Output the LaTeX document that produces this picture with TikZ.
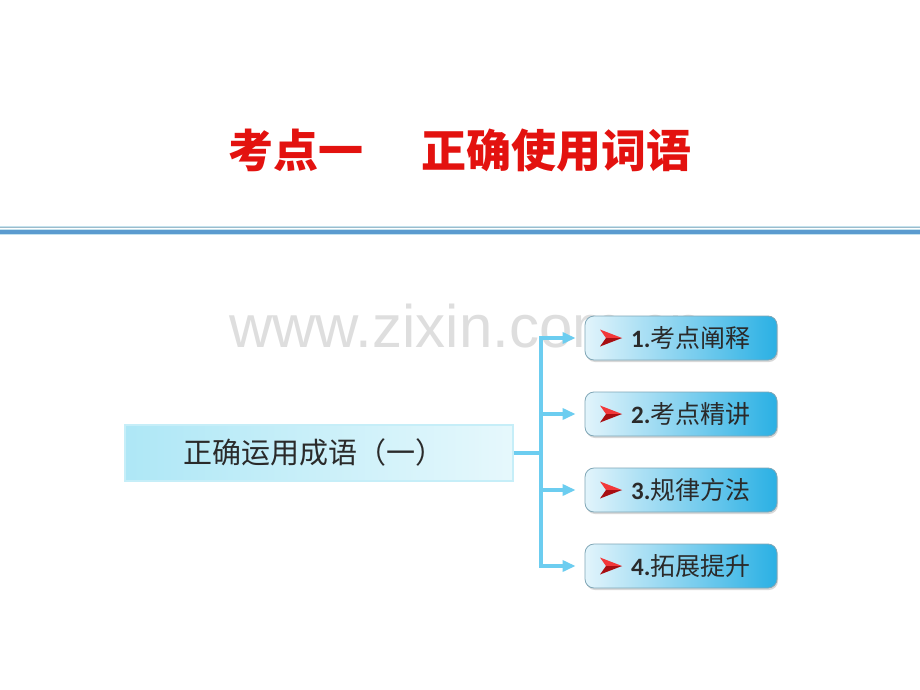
\documentclass[tikz,border=0pt]{standalone}
\usepackage{fontspec}
\setmainfont{Carlito}
\newfontfamily\cjk{Noto Sans CJK SC}
\newfontfamily\wmfont{Liberation Sans}
\usetikzlibrary{arrows.meta,shadows}
\definecolor{titlered}{HTML}{E3120F}
\definecolor{rulegray}{HTML}{9DBCCB}
\definecolor{ruleblue}{HTML}{5B9BCF}
\definecolor{rulelight}{HTML}{C4E2EE}
\definecolor{wmgray}{HTML}{DEDEDE}
\definecolor{linkblue}{HTML}{6CCDF0}
\definecolor{lbleft}{HTML}{AEE7F6}
\definecolor{lbright}{HTML}{E6F8FC}
\definecolor{lbborder}{HTML}{C6EEF8}
\definecolor{rbleft}{HTML}{E2F4FB}
\definecolor{rbright}{HTML}{2AB0E4}
\definecolor{rbborder}{HTML}{7FA6B6}
\definecolor{txtdark}{HTML}{2A2A2A}
\definecolor{bulletlight}{HTML}{F2383A}
\definecolor{bulletdark}{HTML}{A80E12}
\begin{document}
\begin{tikzpicture}[x=1pt,y=-1pt,
  titlestyle/.style={inner sep=0pt, text=titlered, font=\cjk\bfseries\fontsize{45}{50}\selectfont},
  leftbox/.style={minimum width=388pt, minimum height=56pt, inner sep=0pt,
    left color=lbleft, right color=lbright, draw=lbborder, line width=1.6pt},
  lefttext/.style={inner sep=0pt, text=txtdark, font=\cjk\fontsize{29}{32}\selectfont},
  itembox/.style={minimum width=192pt, minimum height=44pt, inner sep=0pt, rounded corners=9pt,
    left color=rbleft, right color=rbright, draw=rbborder, line width=0.8pt,
    drop shadow={shadow xshift=1pt, shadow yshift=-2pt, opacity=0.3}},
  itemtext/.style={inner sep=0pt, anchor=west, text=txtdark, font=\fontsize{25}{28}\selectfont},
  link/.style={draw=linkblue, line width=3.5pt},
  linkarrow/.style={link, -{Triangle[length=13pt,width=11pt]}},
  watermark/.style={inner sep=0pt, anchor=base west, text=wmgray, font=\wmfont\fontsize{60}{62}\selectfont}
]
\useasboundingbox (0,0) rectangle (920,690);
\fill[white] (0,0) rectangle (920,690);

% title
\node[titlestyle] (title) at (460,150) {考点一\hspace{58pt}正确使用词语};

% rules under title
\draw[rulelight, line width=1pt] (0,226) -- (920,226);
\draw[rulegray, line width=1pt] (0,227.6) -- (920,227.6);
\draw[rulelight, line width=1pt] (0,229.5) -- (920,229.5);
\draw[ruleblue, line width=4pt] (0,232) -- (920,232);
\draw[rulelight, line width=1pt] (0,234.5) -- (920,234.5);

% watermark
\node[watermark] (wm) at (229,347) {www.zixin.com.cn};

% left box
\node[leftbox] (lb) at (319,453) {};
\node[lefttext] (lt) at (314,452) {正确运用成语（一）};

% right boxes
\node[itembox] (b1) at (681,338) {};
\node[itembox] (b2) at (681,414) {};
\node[itembox] (b3) at (681,490) {};
\node[itembox] (b4) at (681,566) {};

\node[itemtext] (t1) at (631,338) {\textbf{1.}\cjk 考点阐释};
\node[itemtext] (t2) at (631,414) {\textbf{2.}\cjk 考点精讲};
\node[itemtext] (t3) at (631,490) {\textbf{3.}\cjk 规律方法};
\node[itemtext] (t4) at (631,566) {\textbf{4.}\cjk 拓展提升};

% bullets
\foreach \t in {t1,t2,t3,t4}{
  \fill[bulletlight] ([xshift=-9pt]\t.west) -- ([xshift=-31pt,yshift=8.5pt]\t.west) -- ([xshift=-25pt]\t.west) -- cycle;
  \fill[bulletdark] ([xshift=-9pt]\t.west) -- ([xshift=-31pt,yshift=-8.5pt]\t.west) -- ([xshift=-25pt]\t.west) -- cycle;
}

% connectors
\coordinate (trunk) at (541,453);
\draw[link] (lb.east) -- (lb.east -| trunk);
\draw[link, line cap=rect] (trunk |- b1.west) -- (trunk |- b4.west);
\draw[linkarrow] (trunk |- b1.west) -- ([xshift=-9pt]b1.west);
\draw[linkarrow] (trunk |- b2.west) -- ([xshift=-9pt]b2.west);
\draw[linkarrow] (trunk |- b3.west) -- ([xshift=-9pt]b3.west);
\draw[linkarrow] (trunk |- b4.west) -- ([xshift=-9pt]b4.west);
\end{tikzpicture}
\end{document}
